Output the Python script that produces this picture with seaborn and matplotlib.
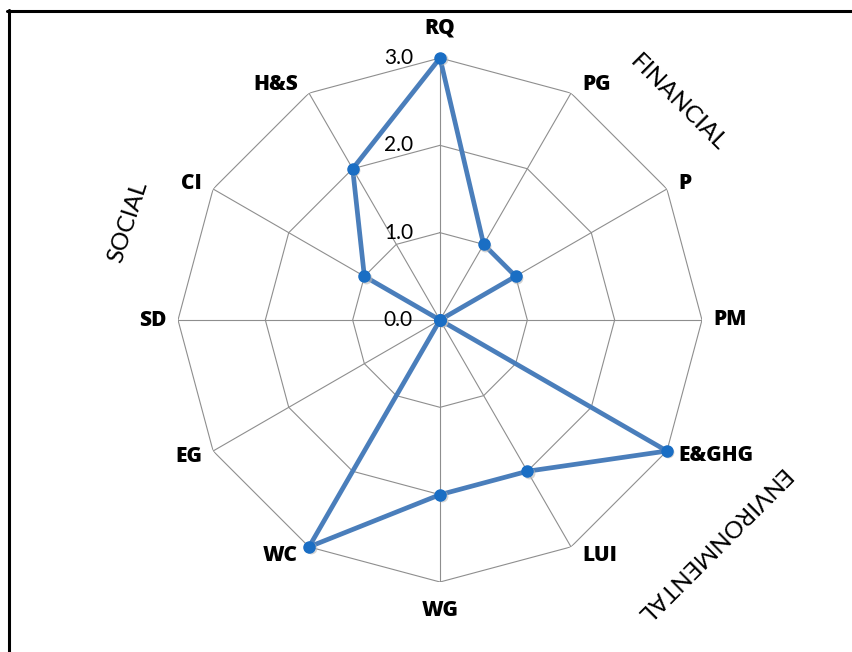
import numpy as np
import pandas as pd
import matplotlib
matplotlib.use("Agg")
import matplotlib.pyplot as plt
from matplotlib.lines import Line2D
import seaborn as sns

# Sustainability indicators, clockwise from the top
categories = ["RQ", "PG", "P", "PM", "E&GHG", "LUI", "WG", "WC", "EG", "SD", "CI", "H&S"]
scores = [3, 1, 1, 0, 3, 2, 2, 3, 0, 0, 1, 2]
ring_values = [0.0, 1.0, 2.0, 3.0]
ring_labels = ["0.0", "1.0", "2.0", "3.0"]
groups = ["FINANCIAL", "ENVIRONMENTAL", "SOCIAL"]

sns.set_style("white")
plt.rcParams["font.family"] = ["Lato", "DejaVu Sans"]
plt.rcParams["text.color"] = "black"

W, H = 852, 652
fig = plt.figure(figsize=(W / 100, H / 100), dpi=100)
fig.patch.set_facecolor("white")

cx, cy, R = 440, 320, 262
ax = fig.add_axes([(cx - R) / W, (H - cy - R) / H, 2 * R / W, 2 * R / H], projection="polar")
ax.set_theta_offset(np.pi / 2)
ax.set_theta_direction(-1)
ax.set_ylim(0, max(ring_values))
ax.grid(False)
ax.set_xticks([])
ax.set_yticks([])
ax.spines["polar"].set_visible(False)
ax.set_facecolor("none")

n = len(categories)
theta = np.arange(n) * 2 * np.pi / n

# polygon grid rings and spokes
grid_kw = dict(color="#8e8e8e", lw=0.8, zorder=1)
closed = np.append(theta, 2 * np.pi)
for rv in ring_values[1:]:
    ax.plot(closed, np.full(closed.size, rv), **grid_kw)
for t in theta:
    ax.plot([t, t], [0, ring_values[-1]], **grid_kw)

# data series, closed loop
df = pd.DataFrame({"theta": np.append(theta, 2 * np.pi), "score": scores + scores[:1]})
sns.lineplot(data=df, x="theta", y="score", sort=False, estimator=None, ax=ax,
             color="#4a7ebb", lw=3.4, zorder=3, legend=False)
# soft shadow under the markers, then the markers
ax.plot(theta, scores, ls="none", marker="o", ms=8.5, mfc="#b8b8b8", mec="none",
        alpha=0.6, zorder=3.5, clip_on=False,
        transform=ax.transData + matplotlib.transforms.Affine2D().translate(1.5, -1.5))
ax.plot(theta, scores, ls="none", marker="o", ms=8, mfc="#1a6ec4", mec="#1a6ec4",
        zorder=4, clip_on=False)
ax.set_xlabel("")
ax.set_ylabel("")
ax.set_ylim(0, max(ring_values))

# ring value labels along the top spoke
for rv, lab in zip(ring_values, ring_labels):
    ax.annotate(lab, xy=(0, rv), xytext=(-27, 0), textcoords="offset pixels",
                ha="right", va="center", fontsize=15, color="black",
                annotation_clip=False)

# category labels around the outer ring
for t, lab in zip(theta, categories):
    s, c = np.sin(t), np.cos(t)
    if abs(s) < 1e-6:
        ha, off = "center", (0, 30 if c > 0 else -28)
    else:
        ha = "left" if s > 0 else "right"
        off = (11 * np.sign(s), 10 * c)
    ax.annotate(lab, xy=(t, ring_values[-1]), xytext=off, textcoords="offset pixels",
                ha=ha, va="center", fontsize=15, fontweight="heavy", color="black",
                family=["Open Sans", "DejaVu Sans"], annotation_clip=False)

# pillar captions
cap_kw = dict(fontsize=17.5, color="black", ha="center", va="center", rotation_mode="anchor")
fig.text(678 / W, 1 - 103 / H, groups[0], rotation=-45, **cap_kw)
fig.text(711 / W, 1 - 545 / H, groups[1], rotation=-135, **cap_kw)
fig.text(128 / W, 1 - 222 / H, groups[2], rotation=72, **cap_kw)

# frame around the chart area
fig.add_artist(Line2D([7 / W, 1.0], [1 - 10.5 / H, 1 - 10.5 / H], color="black", lw=2.2))
fig.add_artist(Line2D([8.5 / W, 8.5 / W], [0.0, 1 - 9.5 / H], color="black", lw=2.2))

fig.savefig("out.png", dpi=100)
